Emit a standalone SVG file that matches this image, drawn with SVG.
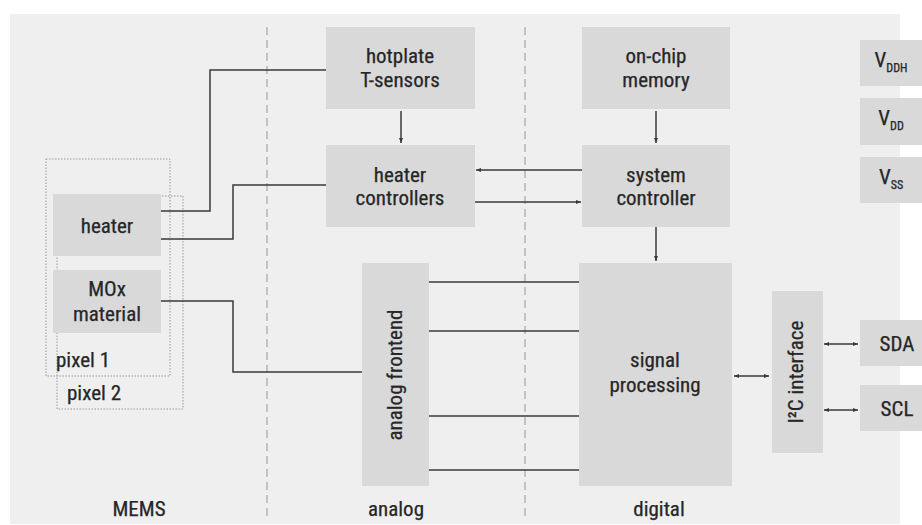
<svg xmlns="http://www.w3.org/2000/svg" width="922" height="525" viewBox="0 0 922 525">
<style>
.box{fill:#d9d9d9}
.t{font-family:"Liberation Sans Narrow","Roboto Condensed","DejaVu Sans Condensed","Liberation Sans",sans-serif;font-size:21px;fill:#262626;stroke:#262626;stroke-width:0.25;text-anchor:middle}
.sub{font-size:12px}
.ln{fill:none;stroke:#3a3a3a;stroke-width:1.5}
.dash{stroke:#aaa;stroke-width:1.3;stroke-dasharray:8 5}
.dot{fill:none;stroke:#999;stroke-width:1;stroke-dasharray:1.5 1.5}
</style>
<defs>
<marker id="ah" viewBox="0 0 10 10" refX="10" refY="5" markerWidth="5" markerHeight="5" orient="auto-start-reverse" markerUnits="userSpaceOnUse"><path d="M0,1 L10,5 L0,9 z" fill="#3a3a3a"/></marker>
</defs>
<rect x="0" y="0" width="922" height="525" fill="#fff"/>
<rect x="10" y="14" width="890" height="510" fill="#efefef"/>
<g id="dividers">
<line class="dash" x1="267" y1="27" x2="267" y2="517"/>
<line class="dash" x1="525" y1="27" x2="525" y2="517"/>
</g>
<g id="pixel2"><rect class="dot" x="57" y="196" width="126" height="213"/><text class="t" x="94" y="400">pixel 2</text></g>
<g id="pixel1"><rect class="dot" x="46" y="159" width="124" height="217"/><text class="t" x="83" y="367">pixel 1</text></g>
<g id="heater"><rect class="box" x="53" y="194" width="108" height="62"/><text class="t" x="107" y="233">heater</text></g>
<g id="mox"><rect class="box" x="53" y="270" width="108" height="63"/><text class="t" x="107" y="296">MOx</text><text class="t" x="107" y="321">material</text></g>
<g id="hotplate"><rect class="box" x="326" y="27" width="149" height="82"/><text class="t" x="400" y="63">hotplate</text><text class="t" x="400" y="87">T-sensors</text></g>
<g id="heatercontrollers"><rect class="box" x="326" y="145" width="149" height="82"/><text class="t" x="400" y="182">heater</text><text class="t" x="400" y="205">controllers</text></g>
<g id="memory"><rect class="box" x="582" y="27" width="148" height="82"/><text class="t" x="656" y="63">on-chip</text><text class="t" x="656" y="87">memory</text></g>
<g id="syscontroller"><rect class="box" x="582" y="145" width="148" height="82"/><text class="t" x="656" y="182">system</text><text class="t" x="656" y="205">controller</text></g>
<g id="afe"><rect class="box" x="362" y="263" width="67" height="223"/><text class="t" transform="translate(402,375) rotate(-90)">analog frontend</text></g>
<g id="sigproc"><rect class="box" x="579" y="263" width="153" height="223"/><text class="t" x="655" y="367">signal</text><text class="t" x="655" y="392">processing</text></g>
<g id="i2c"><rect class="box" x="772" y="291" width="51" height="162"/><text class="t" transform="translate(803,372) rotate(-90)">I²C interface</text></g>
<g id="vddh"><rect class="box" x="860" y="40" width="62" height="46"/><text class="t" x="891" y="67"><tspan>V</tspan><tspan class="sub" dy="5">DDH</tspan></text></g>
<g id="vdd"><rect class="box" x="860" y="98" width="62" height="47"/><text class="t" x="891" y="125"><tspan>V</tspan><tspan class="sub" dy="5">DD</tspan></text></g>
<g id="vss"><rect class="box" x="860" y="157" width="62" height="46"/><text class="t" x="891" y="184"><tspan>V</tspan><tspan class="sub" dy="5">SS</tspan></text></g>
<g id="sda"><rect class="box" x="860" y="320" width="62" height="46"/><text class="t" x="897" y="351">SDA</text></g>
<g id="scl"><rect class="box" x="860" y="385" width="62" height="46"/><text class="t" x="897" y="416">SCL</text></g>
<g id="labels">
<text class="t" x="139" y="516">MEMS</text>
<text class="t" x="396" y="516">analog</text>
<text class="t" x="659" y="516">digital</text>
</g>
<g id="connectors">
<polyline class="ln" points="161,211 210,211 210,70 326,70"/>
<polyline class="ln" points="161,239 233,239 233,185 326,185"/>
<polyline class="ln" points="161,301 233,301 233,372 362,372"/>
<line class="ln" x1="401" y1="111" x2="401" y2="143" marker-end="url(#ah)"/>
<line class="ln" x1="656" y1="111" x2="656" y2="143" marker-end="url(#ah)"/>
<line class="ln" x1="582" y1="170" x2="476" y2="170" marker-end="url(#ah)"/>
<line class="ln" x1="475" y1="202" x2="581" y2="202" marker-end="url(#ah)"/>
<line class="ln" x1="656" y1="227" x2="656" y2="261" marker-end="url(#ah)"/>
<line class="ln" x1="429" y1="282" x2="579" y2="282"/>
<line class="ln" x1="429" y1="331" x2="579" y2="331"/>
<line class="ln" x1="429" y1="416" x2="579" y2="416"/>
<line class="ln" x1="429" y1="470" x2="579" y2="470"/>
<line class="ln" x1="734" y1="376" x2="769" y2="376" marker-start="url(#ah)" marker-end="url(#ah)"/>
<line class="ln" x1="824" y1="344" x2="858" y2="344" marker-start="url(#ah)" marker-end="url(#ah)"/>
<line class="ln" x1="824" y1="410" x2="858" y2="410" marker-start="url(#ah)" marker-end="url(#ah)"/>
</g>
</svg>
